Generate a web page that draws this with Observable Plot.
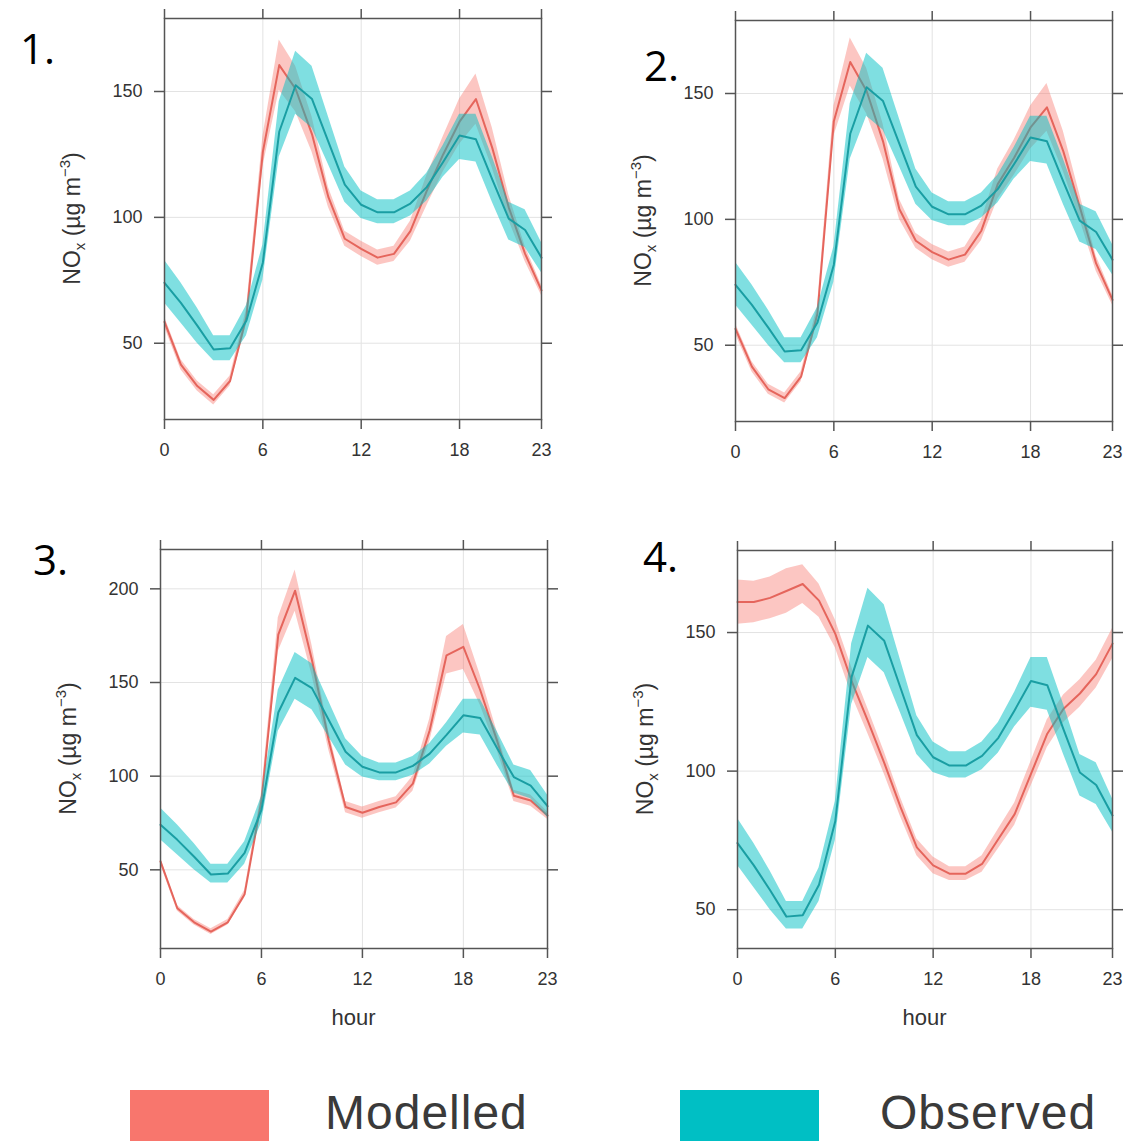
<!DOCTYPE html>
<html>
<head>
<meta charset="utf-8">
<script src="https://cdn.jsdelivr.net/npm/d3@7"></script>
<script src="https://cdn.jsdelivr.net/npm/@observablehq/plot@0.6"></script>
<style>
  html, body { margin: 0; padding: 0; background: #fff; overflow: hidden; }
  #root { position: relative; width: 1125px; height: 1141px; background: #fff; }
  .panel { position: absolute; }
  .num { position: absolute; font-family: "Open Sans", "Noto Sans", sans-serif; font-size: 42px; line-height: 42px; color: #000; }
  .lgbox { position: absolute; }
  .lgtext { position: absolute; font-family: "Liberation Sans", Arial, sans-serif; font-size: 48px; line-height: 48px; letter-spacing: 1px; color: #3a3a3a; white-space: nowrap; }
</style>
</head>
<body>
<div id="root"></div>
<script>
// ---------- data ----------
const hours = [0,1,2,3,4,5,6,7,8,9,10,11,12,13,14,15,16,17,18,19,20,21,22,23];

const observed     = [74, 66, 57, 47.5, 48, 59, 82, 134, 152.5, 147, 130, 113, 105, 102, 102, 105.5, 112, 122, 132.5, 131, 115, 99.5, 95, 84];
const observedLow  = [66, 58, 50, 43, 43, 53, 75, 124, 141, 135.5, 121, 106, 99.5, 97.5, 97.5, 100.5, 106.5, 116, 123, 122, 106, 91, 88, 78];
const observedHigh = [83, 74, 64, 53, 53, 65, 89, 146, 166, 160, 140, 120, 110.5, 107, 107, 110.5, 117.5, 128.5, 141, 141, 124, 106, 103, 90];

const modelled1     = [58.5, 41.5, 33, 27.5, 35, 60.5, 126, 160.5, 151, 133, 108, 91.5, 87.5, 84, 85.5, 94.5, 110.5, 125, 138, 147, 127.5, 104, 85.5, 71];
const modelled1Low  = [56.5, 39.5, 31, 25.5, 33, 57.5, 120, 150.5, 142, 126, 104, 88.5, 84.5, 81, 82.5, 90.5, 104.5, 118, 129, 137, 119.5, 99, 82.5, 69];
const modelled1High = [60.5, 43.5, 35, 29.5, 37, 63.5, 132, 170.5, 160, 140, 112, 94.5, 90.5, 87, 88.5, 98.5, 116.5, 132, 147, 157, 135.5, 109, 88.5, 73];

const modelled2     = [56.5, 41.5, 32.5, 29, 37.5, 62.5, 139, 162.5, 151, 131, 104, 91.5, 87, 84, 86, 95.5, 114, 124.5, 136.5, 144.5, 127, 105, 82.5, 68];
const modelled2Low  = [54.5, 39.5, 30.5, 27, 35.5, 59.5, 133, 153, 142, 124, 100, 88.5, 84, 81, 83, 91.5, 108, 117.5, 128, 135, 119, 100, 79.5, 66];
const modelled2High = [58.5, 43.5, 34.5, 31, 39.5, 65.5, 145, 172, 160, 138, 108, 94.5, 90, 87, 89, 99.5, 120, 131.5, 145, 154, 135, 110, 85.5, 70];

const modelled3     = [54.5, 29.5, 22, 17, 22, 37, 87, 175.5, 199, 162, 119, 83.5, 80.5, 83.5, 86, 96, 124.5, 164.5, 169, 146, 119, 89.5, 87, 79];
const modelled3Low  = [53, 28, 20.5, 15.5, 20.5, 35, 83, 166.5, 188, 154, 114, 80.5, 77.5, 80.5, 83, 92, 118.5, 154.5, 157, 138, 114, 86.5, 84, 77];
const modelled3High = [56, 31, 23.5, 18.5, 23.5, 39, 91, 184.5, 210, 170, 124, 86.5, 83.5, 86.5, 89, 100, 130.5, 174.5, 181, 154, 124, 92.5, 90, 81];

const modelled4     = [161, 161, 162.5, 165, 167.5, 161.5, 149.5, 132.5, 118, 103, 87, 72.5, 66, 63, 63, 66.5, 75.5, 84.5, 99, 113.5, 122.5, 128, 135, 146];
const modelled4Low  = [153, 153.5, 155, 157, 160.5, 155.5, 144.5, 127.5, 113.5, 99, 83.5, 69.5, 63, 60.5, 60.5, 63.5, 72, 80.5, 94.5, 108.5, 117.5, 123, 130, 140.5];
const modelled4High = [169, 168.5, 170, 173, 174.5, 167.5, 154.5, 137.5, 122.5, 107, 90.5, 75.5, 69, 65.5, 65.5, 69.5, 79, 88.5, 103.5, 118.5, 127.5, 133, 140, 151.5];

const xTicks = [0, 6, 12, 18, 23];
const xGrid = [6, 12, 18];
const yTicks1 = [50, 100, 150];
const yTicks2 = [50, 100, 150];
const yTicks3 = [50, 100, 150, 200];
const yTicks4 = [50, 100, 150];
const yDomain1 = [19.7, 179];
const yDomain2 = [19.7, 179];
const yDomain3 = [8, 221];
const yDomain4 = [36, 179.6];

const panelNames = ["1.", "2.", "3.", "4."];
const seriesNames = ["Modelled", "Observed"];
const xLabel = "hour";

// ---------- styles ----------
const MOD = "#F8766D", MOD_LINE = "#e5655c";
const OBS = "#00BFC4", OBS_LINE = "#1a9ea3";
const AX = "#555";
const TXT = "#333";

function panel(opts) {
  const {mod, modLo, modHi, yTicks, yDomain, frameW, frameH, showHour} = opts;
  const mL = 110, mR = 12, mT = 15, mB = showHour ? 95 : 50;
  const rows = hours.map((h, i) => ({
    hour: h,
    obs: observed[i], obsLo: observedLow[i], obsHi: observedHigh[i],
    mod: mod[i], modLo: modLo[i], modHi: modHi[i]
  }));
  const svg = Plot.plot({
    width: frameW + mL + mR,
    height: frameH + mT + mB,
    marginLeft: mL, marginRight: mR, marginTop: mT, marginBottom: mB,
    style: {fontFamily: "'Liberation Sans', Arial, sans-serif", fontSize: "18px", color: TXT, background: "white", overflow: "visible"},
    x: {domain: [0, 23]},
    y: {domain: yDomain},
    marks: [
      Plot.ruleX(xGrid, {stroke: "#e3e3e3", strokeWidth: 1}),
      Plot.ruleY(yTicks, {stroke: "#e3e3e3", strokeWidth: 1}),
      Plot.areaY(rows, {x: "hour", y1: "modLo", y2: "modHi", fill: MOD, fillOpacity: 0.42}),
      Plot.lineY(rows, {x: "hour", y: "mod", stroke: MOD_LINE, strokeWidth: 2}),
      Plot.areaY(rows, {x: "hour", y1: "obsLo", y2: "obsHi", fill: OBS, fillOpacity: 0.5}),
      Plot.lineY(rows, {x: "hour", y: "obs", stroke: OBS_LINE, strokeWidth: 2}),
      Plot.frame({stroke: AX, strokeWidth: 1.5}),
      Plot.axisX(xTicks, {anchor: "bottom", tickSize: 10, tickPadding: 14, stroke: AX, strokeWidth: 1.5, fill: TXT, fontSize: 18, label: null}),
      Plot.axisX(xTicks, {anchor: "top", tickSize: 10, stroke: AX, strokeWidth: 1.5, tickFormat: () => "", label: null}),
      Plot.axisY(yTicks, {anchor: "left", tickSize: 10, tickPadding: 12, stroke: AX, strokeWidth: 1.5, fill: TXT, fontSize: 18, label: null}),
      Plot.axisY(yTicks, {anchor: "right", tickSize: 10, stroke: AX, strokeWidth: 1.5, tickFormat: () => "", label: null})
    ]
  });
  const s = d3.select(svg);
  // y axis label NOx (µg m-3)
  const cy = mT + frameH / 2;
  const t = s.append("text")
    .attr("transform", `translate(${mL - 92},${cy}) rotate(-90)`)
    .attr("text-anchor", "middle")
    .attr("dy", "0.35em")
    .attr("fill", TXT)
    .attr("font-size", 23);
  t.append("tspan").text("NO");
  t.append("tspan").attr("font-size", 15).attr("dy", 5).text("x");
  t.append("tspan").attr("dy", -5).text(" (µg m");
  t.append("tspan").attr("font-size", 15).attr("dy", -10).text("−3");
  t.append("tspan").attr("dy", 10).text(")");
  if (showHour) {
    s.append("text")
      .attr("x", mL + frameW / 2)
      .attr("y", mT + frameH + 77)
      .attr("text-anchor", "middle")
      .attr("fill", TXT)
      .attr("font-size", 22)
      .text(xLabel);
  }
  return {svg, mL, mT};
}

const root = document.getElementById("root");
const layout = [
  {mod: modelled1, modLo: modelled1Low, modHi: modelled1High, yTicks: yTicks1, yDomain: yDomain1, fx: 164, fy: 18, frameW: 377, frameH: 401, showHour: false},
  {mod: modelled2, modLo: modelled2Low, modHi: modelled2High, yTicks: yTicks2, yDomain: yDomain2, fx: 735, fy: 20, frameW: 377, frameH: 401, showHour: false},
  {mod: modelled3, modLo: modelled3Low, modHi: modelled3High, yTicks: yTicks3, yDomain: yDomain3, fx: 160, fy: 549, frameW: 387, frameH: 399, showHour: true},
  {mod: modelled4, modLo: modelled4Low, modHi: modelled4High, yTicks: yTicks4, yDomain: yDomain4, fx: 737, fy: 550, frameW: 375, frameH: 398, showHour: true}
];
layout.forEach(L => {
  const {svg, mL, mT} = panel(L);
  const d = document.createElement("div");
  d.className = "panel";
  d.style.left = (L.fx - mL) + "px";
  d.style.top = (L.fy - mT) + "px";
  d.appendChild(svg);
  root.appendChild(d);
});

// panel numbers
const numPos = [[20, 27], [644, 44], [33, 538], [643, 535]];
panelNames.forEach((n, i) => {
  const d = document.createElement("div");
  d.className = "num";
  d.style.left = numPos[i][0] + "px";
  d.style.top = numPos[i][1] + "px";
  d.textContent = n;
  root.appendChild(d);
});

// legend
const legendItems = [
  {name: seriesNames[0], color: MOD, bx: 130, tx: 325},
  {name: seriesNames[1], color: OBS, bx: 680, tx: 880}
];
legendItems.forEach(it => {
  const b = document.createElement("div");
  b.className = "lgbox";
  Object.assign(b.style, {left: it.bx + "px", top: "1090px", width: "139px", height: "51px", background: it.color});
  root.appendChild(b);
  const t = document.createElement("div");
  t.className = "lgtext";
  Object.assign(t.style, {left: it.tx + "px", top: "1089px"});
  t.textContent = it.name;
  root.appendChild(t);
});
</script>
</body>
</html>
